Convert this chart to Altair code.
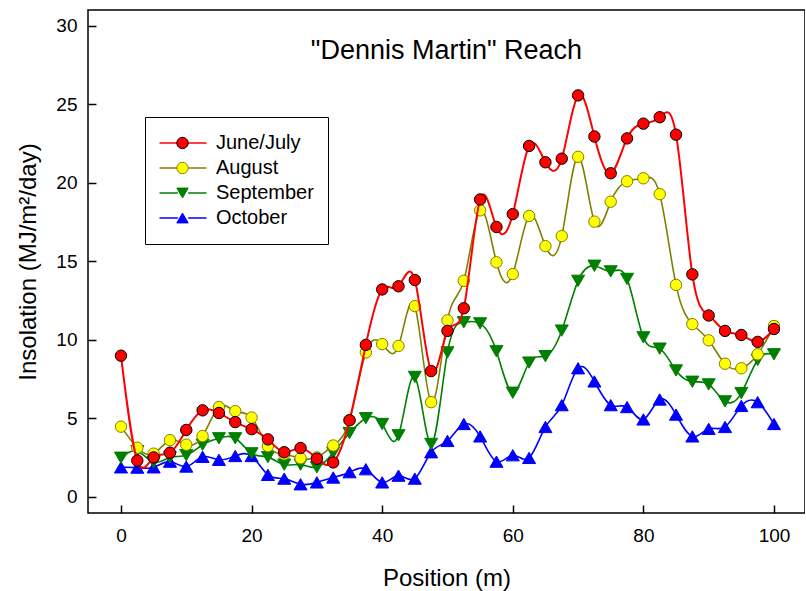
import altair as alt
import pandas as pd

# Position along the reach (m)
position = [0, 2.5, 5, 7.5, 10, 12.5, 15, 17.5, 20, 22.5, 25, 27.5, 30, 32.5,
            35, 37.5, 40, 42.5, 45, 47.5, 50, 52.5, 55, 57.5, 60, 62.5, 65,
            67.5, 70, 72.5, 75, 77.5, 80, 82.5, 85, 87.5, 90, 92.5, 95, 97.5, 100]

# Insolation (MJ/m2/day) per month
june_july = [8.98, 2.30, 2.50, 2.80, 4.25, 5.50, 5.33, 4.75, 4.30, 3.65, 2.83,
             3.10, 2.42, 2.18, 4.87, 9.67, 13.20, 13.40, 13.80, 8.00, 10.56,
             12.00, 18.93, 17.18, 18.00, 22.34, 21.30, 21.53, 25.56, 22.94,
             20.60, 22.82, 23.76, 24.17, 23.06, 14.16, 11.54, 10.56, 10.30,
             9.86, 10.68]
august = [4.46, 3.12, 2.74, 3.60, 3.31, 3.86, 5.71, 5.45, 5.04, 3.22, 2.70,
          2.45, 2.50, 3.26, 4.87, 9.19, 9.72, 9.60, 12.14, 6.02, 11.23, 13.75,
          18.24, 14.93, 14.18, 17.88, 15.96, 16.60, 21.65, 17.52, 18.79, 20.09,
          20.28, 19.27, 13.49, 10.99, 9.96, 8.47, 8.18, 9.07, 10.87]
september = [2.48, 2.90, 2.20, 2.50, 2.64, 3.31, 3.72, 3.72, 2.76, 2.52, 2.04,
             2.04, 1.87, 2.80, 4.05, 5.00, 4.63, 3.91, 7.63, 3.36, 9.19, 11.11,
             11.04, 9.26, 6.62, 8.54, 8.95, 10.58, 13.75, 14.71, 14.35, 13.87,
             10.15, 9.43, 8.04, 7.32, 7.15, 6.07, 6.60, 8.71, 9.07]
october = [1.87, 1.85, 1.87, 2.23, 1.92, 2.54, 2.35, 2.59, 2.59, 1.39, 1.15,
           0.79, 0.91, 1.22, 1.56, 1.75, 0.91, 1.34, 1.15, 2.83, 3.55, 4.63,
           3.84, 2.23, 2.64, 2.47, 4.44, 5.83, 8.18, 7.34, 5.83, 5.71, 4.92,
           6.19, 5.23, 3.84, 4.32, 4.44, 5.78, 6.02, 4.63]

months = ["June/July", "August", "September", "October"]
values = {"June/July": june_july, "August": august,
          "September": september, "October": october}

line_colors = ["#ff0000", "#808000", "#008000", "#0000ff"]
fill_colors = ["#ff0000", "#ffff00", "#008000", "#0000ff"]
edge_colors = ["#000000", "#808000", "#008000", "#0000ff"]
shapes = ["circle", "circle", "triangle-down", "triangle-up"]
marker_size = {"June/July": 130, "August": 130, "September": 170, "October": 170}
line_width = {"June/July": 2.0, "August": 1.6, "September": 1.6, "October": 1.6}

# Each series also carries its row index in the legend, used for the markers
rows = []
for i, m in enumerate(months):
    for x, y in zip(position, values[m]):
        rows.append({"position": x, "insolation": y, "series": m, "marker": i})
df = pd.DataFrame(rows)
marker_ids = list(range(len(months)))

FONT = "Liberation Sans"

x_enc = alt.X(
    "position:Q",
    scale=alt.Scale(domain=[-5.05, 104.75], nice=False, zero=False),
    axis=alt.Axis(values=[0, 20, 40, 60, 80, 100], offset=-8, tickSize=8,
                  tickWidth=1.5, tickColor="black", domain=False, grid=False,
                  labelFont=FONT, labelFontSize=19, labelColor="black",
                  labelPadding=13, title="Position (m)", titleFont=FONT,
                  titleFontSize=24, titleFontWeight="normal",
                  titleColor="black", titleY=73, titleBaseline="middle"),
)
y_enc = alt.Y(
    "insolation:Q",
    scale=alt.Scale(domain=[-1.04, 31.0], nice=False, zero=False),
    axis=alt.Axis(values=[0, 5, 10, 15, 20, 25, 30], offset=-8, tickSize=8,
                  tickWidth=1.5, tickColor="black", domain=False, grid=False,
                  labelFont=FONT, labelFontSize=19, labelColor="black",
                  labelPadding=11, title="Insolation (MJ/m²/day)",
                  titleFont=FONT, titleFontSize=24, titleFontWeight="normal",
                  titleColor="black", titleX=-68, titleBaseline="middle"),
)

# Legend of line strokes (with a gap where the marker sits) plus labels
line_legend = alt.Legend(
    title=None, orient="none", legendX=57, legendY=107,
    symbolType="M-1,0L-0.22,0M0.22,0L1,0", symbolSize=2209,
    symbolStrokeWidth=1.5, labelFont=FONT, labelFontSize=20,
    labelColor="black", labelOffset=8.5, clipHeight=25, rowPadding=0,
    padding=13.5, strokeColor="black",
)
# Legend of markers laid over the middle of each stroke
marker_legend = alt.Legend(
    title=None, orient="none", legendX=74.5, legendY=107,
    symbolSize=130, symbolStrokeWidth=1, labelExpr="''", labelFontSize=1,
    clipHeight=25, rowPadding=0, padding=13.5,
)

color_enc = alt.Color("series:N", scale=alt.Scale(domain=months, range=line_colors),
                      legend=line_legend)
fill_enc = alt.Fill("marker:N", scale=alt.Scale(domain=marker_ids, range=fill_colors),
                    legend=marker_legend)
stroke_enc = alt.Stroke("marker:N", scale=alt.Scale(domain=marker_ids, range=edge_colors),
                        legend=marker_legend)
shape_enc = alt.Shape("marker:N", scale=alt.Scale(domain=marker_ids, range=shapes),
                      legend=marker_legend)

base = alt.Chart(df)
layers = []
for m in ["October", "September", "August", "June/July"]:
    sub = base.transform_filter(alt.datum.series == m)
    layers.append(
        sub.mark_line(interpolate="natural", strokeWidth=line_width[m])
        .encode(x=x_enc, y=y_enc, color=color_enc)
    )
    layers.append(
        sub.mark_point(filled=True, size=marker_size[m], strokeWidth=1, opacity=1)
        .encode(x=x_enc, y=y_enc, fill=fill_enc, stroke=stroke_enc, shape=shape_enc)
    )

chart = (
    alt.layer(*layers)
    .properties(
        width=717, height=503,
        title=alt.Title('"Dennis Martin" Reach', font=FONT, fontSize=27,
                        fontWeight="normal", color="black", anchor="middle",
                        frame="group", offset=-55),
        autosize=alt.AutoSizeParams(type="none"),
        padding={"left": 88, "top": 10, "right": 0, "bottom": 78},
        background="white",
    )
    .configure_view(stroke="black", strokeWidth=1.5)
)

chart.save("out.html", embed_options={"renderer": "svg", "actions": False})
